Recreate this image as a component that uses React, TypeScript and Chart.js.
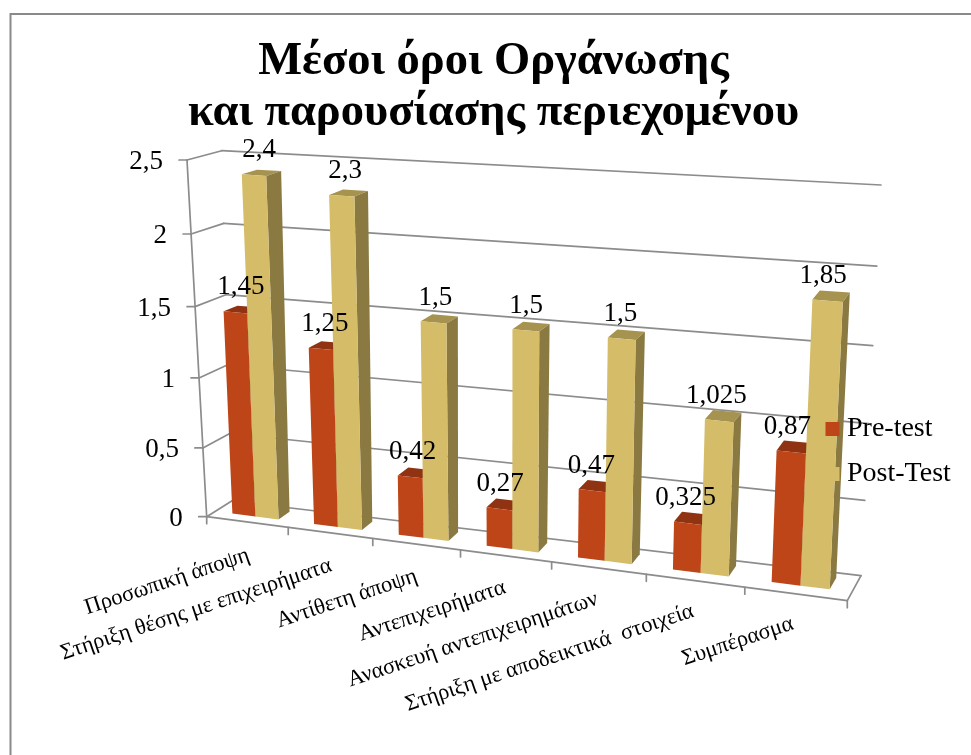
import React, { useEffect, useRef } from "react";
import { Chart, registerables } from "chart.js";

Chart.register(...registerables);

const categories = [
  "Προσωπική άποψη",
  "Στήριξη θέσης με επιχειρήματα",
  "Αντίθετη άποψη",
  "Αντεπιχειρήματα",
  "Ανασκευή αντεπιχειρημάτων",
  "Στήριξη με αποδεικτικά  στοιχεία",
  "Συμπέρασμα",
];
const preTest = [1.45, 1.25, 0.42, 0.27, 0.47, 0.325, 0.87];
const postTest = [2.4, 2.3, 1.5, 1.5, 1.5, 1.025, 1.85];
const titleLines = ["Μέσοι όροι Οργάνωσης", "και παρουσίασης περιεχομένου"];

const SERIF = "'Liberation Serif', serif";
const GRID = "#8c8c8c";
const FACES: Record<string, { top: string; side: string }> = {
  "Pre-test": { top: "#8f3312", side: "#8f3312" },
  "Post-Test": { top: "#a6934f", side: "#8a7a42" },
};

type Pt = [number, number];
// corners of the 3D box as it appears on the page: floor and top plane
const FL0: Pt = [206.7, 516.7], FR0: Pt = [847.3, 600.7], BL0: Pt = [231.7, 501], BR0: Pt = [861, 575.7];
const FL1: Pt = [187, 160], FR1: Pt = [866, 204], BL1: Pt = [221.7, 150.7], BR1: Pt = [881, 185];
const K_U = 0.875, K_V = 0.955;
const BAR_D0 = 0.34, BAR_D1 = 0.8;

const mix = (a: Pt, b: Pt, t: number): Pt => [a[0] + (b[0] - a[0]) * t, a[1] + (b[1] - a[1]) * t];
const warp = (t: number, k: number) => (k * t) / (1 + (k - 1) * t);
const project = (u: number, v: number, d: number): Pt => {
  const uu = warp(u, K_U);
  const vv = warp(v, K_V);
  const front = mix(mix(FL0, FR0, uu), mix(FL1, FR1, uu), vv);
  const back = mix(mix(BL0, BR0, uu), mix(BL1, BR1, uu), vv);
  return mix(front, back, d);
};
const comma = (v: number) => String(v).replace(".", ",");

const fillPoly = (ctx: CanvasRenderingContext2D, pts: Pt[], color: string) => {
  ctx.beginPath();
  pts.forEach((p, i) => (i ? ctx.lineTo(p[0], p[1]) : ctx.moveTo(p[0], p[1])));
  ctx.closePath();
  ctx.fillStyle = color;
  ctx.fill();
};
const line = (ctx: CanvasRenderingContext2D, a: Pt, b: Pt) => {
  ctx.beginPath();
  ctx.moveTo(a[0], a[1]);
  ctx.lineTo(b[0], b[1]);
  ctx.stroke();
};

const scene3d = {
  id: "scene3d",
  beforeLayout(chart: any) {
    const legend = chart.legend;
    if (legend) legend._layers = () => [{ z: 10, draw: (area: any) => legend.draw(area) }];
  },
  afterLayout(chart: any) {
    const legend = chart.legend;
    legend.left = 815;
    legend.right = 965;
    legend.top = 398;
    legend.bottom = 750;
  },
  beforeDraw(chart: any) {
    const { ctx } = chart;
    ctx.save();
    ctx.strokeStyle = "#8a8a8a";
    ctx.lineWidth = 2;
    ctx.beginPath();
    ctx.moveTo(10.5, 755);
    ctx.lineTo(10.5, 14);
    ctx.lineTo(971, 14);
    ctx.stroke();
    ctx.restore();
  },
  beforeDatasetsDraw(chart: any) {
    const { ctx, scales } = chart;
    const xs = scales.x, ys = scales.y;
    const toU = (px: number) => (px - xs.left) / xs.width;
    const toV = (py: number) => (ys.bottom - py) / ys.height;
    ctx.save();

    // walls, floor and tick marks
    ctx.strokeStyle = GRID;
    ctx.lineWidth = 1.7;
    ctx.lineCap = "round";
    ys.ticks.forEach((t: any) => {
      const v = toV(ys.getPixelForValue(t.value));
      const f = project(0, v, 0);
      const bl = project(0, v, 1);
      const br = project(1, v, 1);
      line(ctx, [f[0] - 8, f[1]], f);
      line(ctx, f, bl);
      line(ctx, bl, br);
    });
    line(ctx, project(0, 0, 0), project(0, 1, 0));
    line(ctx, project(0, 0, 0), project(1, 0, 0));
    line(ctx, project(1, 0, 0), project(1, 0, 1));
    for (let i = 0; i <= categories.length; i++) {
      const p = project(i / categories.length, 0, 0);
      line(ctx, p, [p[0], p[1] + 7]);
    }

    // bars
    const metas = chart.getSortedVisibleDatasetMetas();
    const labels: { text: string; p: Pt; u: number }[] = [];
    categories.forEach((_, i) => {
      metas.forEach((meta: any) => {
        const ds = chart.data.datasets[meta.index];
        const el = meta.data[i];
        const { x, y, width } = el.getProps(["x", "y", "width"]);
        const u0 = toU(x - width / 2), u1 = toU(x + width / 2), v = toV(y);
        const faces = FACES[ds.label];
        const fl = project(u0, v, BAR_D0), fr = project(u1, v, BAR_D0);
        const bl = project(u0, v, BAR_D1), br = project(u1, v, BAR_D1);
        const fr0 = project(u1, 0, BAR_D0), br0 = project(u1, 0, BAR_D1), fl0 = project(u0, 0, BAR_D0);
        fillPoly(ctx, [fl, fr, br, bl], faces.top);
        fillPoly(ctx, [fr, br, br0, fr0], faces.side);
        fillPoly(ctx, [fl, fr, fr0, fl0], ds.backgroundColor);
        labels.push({
          text: comma(ds.data[i]),
          p: mix(fl, fr, 0.5),
          u: toU(x),
        });
      });
    });

    // data labels
    ctx.fillStyle = "#000";
    ctx.font = `27px ${SERIF}`;
    ctx.textAlign = "center";
    ctx.textBaseline = "middle";
    labels.forEach((l) => ctx.fillText(l.text, l.p[0] + 6 - 11 * l.u, l.p[1] - 25));

    // value axis labels
    ctx.textAlign = "right";
    ys.ticks.forEach((t: any) => {
      const f = project(0, toV(ys.getPixelForValue(t.value)), 0);
      ctx.fillText(t.label, f[0] - 24, f[1] + 2);
    });

    // category labels
    ctx.font = `22.5px ${SERIF}`;
    xs.getLabels().forEach((label: string, i: number) => {
      const u = (i + 0.5) / categories.length;
      const p = project(u, 0, 0);
      ctx.save();
      ctx.translate(p[0] + 2 - 5 * u, p[1] + 33 - 4 * u);
      ctx.rotate((-18.3 * Math.PI) / 180);
      ctx.fillText(label, 0, 0);
      ctx.restore();
    });
    ctx.restore();
    return false;
  },
};

export default function App() {
  const ref = useRef<HTMLCanvasElement>(null);
  useEffect(() => {
    const chart = new Chart(ref.current!, {
      type: "bar",
      data: {
        labels: categories,
        datasets: [
          { label: "Pre-test", data: preTest, backgroundColor: "#be4518", borderWidth: 0 },
          { label: "Post-Test", data: postTest, backgroundColor: "#d4bc68", borderWidth: 0 },
        ],
      },
      options: {
        responsive: false,
        animation: false,
        layout: { padding: { left: 16 } },
        datasets: { bar: { categoryPercentage: 0.57, barPercentage: 1 } },
        scales: {
          x: { display: false },
          y: { display: false, min: 0, max: 2.5, ticks: { stepSize: 0.5, callback: (v: any) => comma(Number(v)) } },
        },
        plugins: {
          title: {
            display: true,
            text: titleLines,
            color: "#000",
            font: { family: SERIF, size: 46.5, weight: "bold", lineHeight: 1.087 },
            padding: { top: 37, bottom: 0 },
          },
          legend: {
            position: "right",
            align: "start",
            labels: {
              usePointStyle: true,
              pointStyle: "rect",
              boxWidth: 1,
              boxHeight: 14,
              padding: 17,
              color: "#000",
              font: { family: SERIF, size: 28 },
            },
          },
          tooltip: { enabled: false },
        },
      },
      plugins: [scene3d],
    } as any);
    return () => chart.destroy();
  }, []);
  return (
    <div style={{ position: "absolute", left: 0, top: 0 }}>
      <canvas ref={ref} width={971} height={755} style={{ display: "block" }} />
    </div>
  );
}
